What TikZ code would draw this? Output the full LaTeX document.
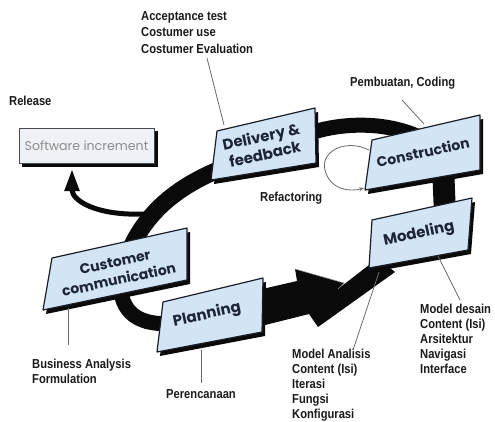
\documentclass[tikz,border=0pt]{standalone}
\usepackage{fontspec}
\usetikzlibrary{arrows.meta}
\newfontfamily\boxfont{Poppins}
\newfontfamily\annfont{Liberation Sans}[FakeStretch=0.86]
\definecolor{boxfill}{HTML}{D3E4F4}
\definecolor{boxedge}{HTML}{1A1E26}
\definecolor{lblc}{HTML}{1C2636}
\definecolor{ribbonc}{HTML}{0A0A0A}
\definecolor{leadc}{HTML}{6A6A6A}
\definecolor{annc}{HTML}{1A1A1A}
\definecolor{sifill}{HTML}{EEF1F6}
\definecolor{sitext}{HTML}{8C8C8C}
\newcommand\drawplate[4]{%
  \fill[ribbonc] ([shift={(3,4)}]#1) -- ([shift={(3,4)}]#2) -- ([shift={(3,4)}]#3) -- ([shift={(3,4)}]#4) -- cycle;
  \filldraw[plate] (#1) -- (#2) -- (#3) -- (#4) -- cycle;}
\begin{document}
\begin{tikzpicture}[x=1pt,y=-1pt,
  ribbon/.style={draw=ribbonc, line width=#1, line cap=butt},
  plate/.style={fill=boxfill, draw=boxedge, line width=1.2pt, line join=round},
  lbl/.style={font=\boxfont\bfseries\fontsize{#1}{18}\selectfont, text=lblc, align=center, inner sep=0, rotate=12},
  ann/.style={font=\annfont\bfseries\fontsize{13}{15}\selectfont, text=annc, align=left, inner sep=0, anchor=north west},
  lead/.style={draw=leadc, line width=0.8pt},
  sibox/.style={fill=sifill, draw=boxedge!80, line width=1pt, minimum width=135pt, minimum height=35pt,
    font=\boxfont\fontsize{12.6}{14}\selectfont, text=sitext}]
\useasboundingbox[fill=white] (0,0) rectangle (495,421);

% ribbons
\draw[ribbon=17] (245,160) .. controls (190,178) and (145,205) .. (125,262);
\draw[ribbon=15] (120,285) .. controls (122,318) and (145,328) .. (185,322);
\draw[ribbon=15] (290,142) .. controls (325,122) and (385,118) .. (425,140);
\draw[ribbon=22] (443,165) -- (445,215);
\fill[ribbonc] (245,293) -- (297,281) -- (295,269) -- (344,283) -- (338,289) -- (378,258)
  -- (395,272) -- (318,327) -- (309,314) -- (245,330) -- cycle;
\draw[leadc!70, line width=0.6pt] (295,269) -- (344,283) -- (338,289);
% branch to software increment
\draw[ribbonc, line width=5pt, -{Triangle[length=22pt,width=14pt]}] (145,214) .. controls (95,216) and (72,200) .. (72,169);

% software increment
\fill[ribbonc] (22,131) rectangle (157.5,166.5);
\node[sibox] (si) at (86.5,145.5) {Software increment};

% plates
\drawplate{217,131}{315,108}{316,163}{211,180}
\drawplate{372,140}{480,115}{480,170}{365,190}
\drawplate{372,220}{472,198}{468,250}{369,268}
\drawplate{52,258}{187,228}{187,280}{43,310}
\drawplate{163,302}{263,278}{262,332}{157,352}

\node[lbl=15] (deliv) at (263,145) {Delivery \&\\feedback};
\node[lbl=14] (constr) at (423,152) {Construction};
\node[lbl=15] (model) at (419,234) {Modeling};
\node[lbl=14] (cc) at (117,271) {Customer\\communication};
\node[lbl=15] (plan) at (207,315) {Planning};

% annotations
\node[ann, font=\annfont\bfseries\fontsize{13}{16.5}\selectfont] (accept) at (141,11) {Acceptance test\\Costumer use\\Costumer Evaluation};
\node[ann] (release) at (9,95.5) {Release};
\node[ann] (coding) at (350,76.5) {Pembuatan, Coding};
\node[ann] (refac) at (260,191.5) {Refactoring};
\node[ann] (bisnis) at (32,359) {Business Analysis\\Formulation};
\node[ann] (renc) at (166,389) {Perencanaan};
\node[ann] (analisis) at (292,349) {Model Analisis\\Content (Isi)\\Iterasi\\Fungsi\\Konfigurasi};
\node[ann] (desain) at (420,304) {Model desain\\Content (Isi)\\Arsitektur\\Navigasi\\Interface};

% leader lines
\coordinate (a1) at (207,58);  \coordinate (a2) at (224,125);
\coordinate (c1) at (402,100); \coordinate (c2) at (424,124);
\coordinate (b1) at (68,345);  \coordinate (b2) at (68,308);
\coordinate (p1) at (201,383); \coordinate (p2) at (201,350);
\coordinate (m1) at (353,350); \coordinate (m2) at (379,272);
\coordinate (d1) at (460,300); \coordinate (d2) at (438,256);
\draw[lead] (a1) -- (a2);
\draw[lead] (c1) -- (c2);
\draw[lead] (b1) -- (b2);
\draw[lead] (p1) -- (p2);
\draw[lead] (m1) -- (m2);
\draw[lead] (d1) -- (d2);

% refactoring loop
\coordinate (r1) at (369,150); \coordinate (r2) at (364,188);
\draw[lead, -{Stealth[length=5pt,width=4pt]}] (r1) .. controls (345,138) and (320,152) .. (325,170) .. controls (330,190) and (350,192) .. (r2);
\end{tikzpicture}
\end{document}
